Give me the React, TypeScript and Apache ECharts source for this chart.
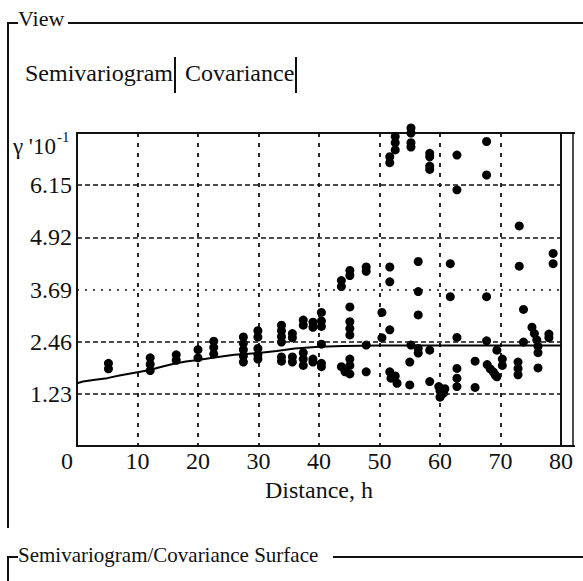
import React, { useEffect, useRef } from "react";
import * as echarts from "echarts";

const FONT = "Liberation Serif";

const xTicks = [0, 10, 20, 30, 40, 50, 60, 70, 80];
const yTicks = [0, 1.23, 2.46, 3.69, 4.92, 6.15, 7.38];

// empirical semivariogram points [distance, gamma*10]
const pointsNear = [
  [5.2, 1.95], [5.2, 1.82],
  [12.1, 2.08], [12.1, 1.93], [12.1, 1.78],
  [16.4, 2.15], [16.4, 2.02],
  [20.0, 2.27], [20.0, 2.08],
  [22.6, 2.47], [22.6, 2.32], [22.6, 2.17],
  [27.5, 2.57], [27.5, 2.42], [27.5, 2.27], [27.5, 2.12], [27.5, 1.98],
  [29.9, 2.72], [29.9, 2.57], [29.9, 2.3], [29.9, 2.15], [29.9, 2.05],
  [33.8, 2.85], [33.8, 2.72], [33.8, 2.58], [33.8, 2.45], [33.8, 2.1], [33.8, 2.0],
  [35.6, 2.65], [35.6, 2.55], [35.6, 2.1], [35.6, 1.98],
  [37.4, 2.97], [37.4, 2.85], [37.4, 2.2], [37.4, 2.05], [37.4, 1.9],
  [39.0, 2.92], [39.0, 2.8], [39.0, 2.05], [39.0, 1.98],
  [40.4, 3.15], [40.4, 2.95], [40.4, 2.82], [40.4, 2.4], [40.4, 1.95], [40.4, 1.87],
];
const pointsMid = [
  [43.7, 3.9], [43.7, 3.76], [43.7, 1.87], [44.3, 1.75],
  [45.1, 4.14], [45.1, 4.02], [45.1, 3.28], [45.1, 2.93], [45.1, 2.77], [45.1, 2.62],
  [45.1, 2.05], [45.1, 1.9], [45.1, 1.7],
  [47.8, 4.22], [47.8, 4.12], [47.8, 2.38], [47.8, 1.75],
  [50.4, 3.15], [50.4, 2.55],
  [51.7, 6.82], [51.7, 6.68], [51.7, 4.22], [51.7, 3.87], [51.7, 2.74], [51.7, 1.75], [51.9, 1.6],
  [52.6, 7.3], [52.6, 7.15], [52.6, 6.98], [52.6, 1.65], [52.9, 1.48],
  [55.2, 7.5], [55.2, 7.38], [55.2, 7.15], [55.2, 7.05], [55.2, 2.38], [55.0, 1.98], [55.0, 1.44],
  [56.4, 4.35], [56.4, 3.64], [56.4, 3.09], [56.4, 2.3], [56.4, 2.19],
  [58.3, 6.9], [58.3, 6.82], [58.3, 6.6], [58.3, 6.52], [58.3, 2.26], [58.3, 1.52],
];
const pointsFar = [
  [59.8, 1.4], [60.0, 1.3], [60.2, 1.2], [60.0, 1.15], [60.6, 1.25], [60.8, 1.35],
  [61.7, 4.3], [61.7, 3.52],
  [62.8, 6.86], [62.8, 6.04], [62.8, 2.56], [62.8, 1.83], [62.8, 1.6], [62.8, 1.4],
  [65.8, 2.0], [65.8, 1.38],
  [67.7, 7.18], [67.7, 6.39], [67.7, 3.52], [67.7, 2.48], [67.8, 1.92], [68.3, 1.82],
  [68.8, 1.75], [69.1, 1.68], [69.4, 1.63], [69.4, 2.26],
  [70.3, 2.05], [70.3, 1.9],
  [72.9, 1.98], [72.9, 1.83], [72.9, 1.68],
  [73.1, 5.19], [73.1, 4.24],
  [73.8, 3.22], [73.8, 2.45],
  [75.2, 2.8], [75.6, 2.65], [76.0, 2.5], [76.2, 2.35], [76.2, 2.2], [76.2, 1.84],
  [78.0, 2.64], [78.0, 2.55],
  [78.7, 4.54], [78.7, 4.3],
];

// fitted model curve
const modelCurve = [
  [0, 1.48], [1, 1.52], [3, 1.56], [5, 1.6], [7, 1.66], [10, 1.74], [12, 1.79],
  [14, 1.87], [16, 1.94], [18, 1.99], [20, 2.03], [23, 2.09], [26, 2.15], [30, 2.19],
  [33, 2.24], [36, 2.3], [40, 2.34], [44, 2.36], [50, 2.37], [80, 2.37],
];

export default function App() {
  const ref = useRef<HTMLDivElement>(null);
  useEffect(() => {
    document.body.style.margin = "0";
    const chart = echarts.init(ref.current!, null, { renderer: "svg" });
    const FS = 24;
    const txt = { fontFamily: FONT, fontSize: FS, color: "#111" };
    const gfont = (size: number) => ({ fontFamily: FONT, fontSize: size, fill: "#111" });
    const gridMarks = yTicks
      .filter((v) => v > 0 && v < 7.38)
      .map((v) => ({
        yAxis: v,
        lineStyle: {
          type: Math.abs(v - 3.69) < 0.01 ? [2, 6] : [5, 3],
          color: "#111",
          width: 1.6,
        },
      }));
    const lineStyleBlack = { stroke: "#111", lineWidth: 2 };
    chart.setOption({
      animation: false,
      textStyle: { fontFamily: FONT },
      grid: {
        left: 77,
        right: 22,
        top: 133,
        bottom: 135,
        show: true,
        borderColor: "#111",
        borderWidth: 2,
      },
      xAxis: {
        type: "value",
        min: xTicks[0],
        max: xTicks[xTicks.length - 1],
        interval: 10,
        axisLine: { show: false },
        axisTick: { show: false },
        axisLabel: {
          ...txt,
          margin: 3,
          formatter: (v: number) => (v === 0 ? "{z|0}" : String(v)),
          rich: { z: { ...txt, padding: [0, 20, 0, 0] } },
        },
        splitLine: {
          show: true,
          lineStyle: { color: "#111", type: [4, 6], width: 1.8 },
        },
        name: "Distance, h",
        nameLocation: "middle",
        nameGap: 29,
        nameTextStyle: txt,
      },
      yAxis: {
        type: "value",
        min: yTicks[0],
        max: yTicks[yTicks.length - 1],
        interval: 1.23,
        axisLine: { show: false },
        axisTick: { show: false },
        splitLine: { show: false },
        axisLabel: {
          ...txt,
          margin: 5,
          formatter: (v: number) =>
            v === 0 || v > 7.3 ? "" : v.toFixed(2),
        },
      },
      graphic: [
        // View frame
        { type: "polyline", shape: { points: [[18, 23], [8, 23], [8, 528]] }, style: { ...lineStyleBlack, fill: null } },
        { type: "line", shape: { x1: 68, y1: 23, x2: 583, y2: 23 }, style: lineStyleBlack },
        { type: "text", x: 18, y: 18, style: { text: "View", ...gfont(22), verticalAlign: "middle" } },
        // tabs
        { type: "text", x: 25, y: 73, style: { text: "Semivariogram", ...gfont(24), verticalAlign: "middle" } },
        { type: "line", shape: { x1: 175, y1: 57, x2: 175, y2: 93 }, style: lineStyleBlack },
        { type: "text", x: 185, y: 73, style: { text: "Covariance", ...gfont(24), verticalAlign: "middle" } },
        { type: "line", shape: { x1: 296, y1: 57, x2: 296, y2: 93 }, style: lineStyleBlack },
        // y axis title
        { type: "text", x: 56, y: 146, style: { text: "γ '10", ...gfont(23), align: "right", verticalAlign: "middle" } },
        { type: "text", x: 57, y: 137, style: { text: "-1", ...gfont(15), align: "left", verticalAlign: "middle" } },
        // plot extension on right
        { type: "line", shape: { x1: 561, y1: 133, x2: 575, y2: 133 }, style: lineStyleBlack },
        { type: "line", shape: { x1: 561, y1: 446, x2: 575, y2: 446 }, style: lineStyleBlack },
        { type: "line", shape: { x1: 573, y1: 133, x2: 573, y2: 446 }, style: { stroke: "#111", lineWidth: 1.5 } },
        // bottom section
        { type: "polyline", shape: { points: [[18, 557], [8, 557], [8, 581]] }, style: { ...lineStyleBlack, fill: null } },
        { type: "text", x: 18, y: 555, style: { text: "Semivariogram/Covariance Surface", ...gfont(21), verticalAlign: "middle" } },
        { type: "line", shape: { x1: 333, y1: 557, x2: 583, y2: 557 }, style: lineStyleBlack },
      ],
      series: [
        {
          type: "scatter",
          data: [...pointsNear, ...pointsMid, ...pointsFar],
          symbol: "circle",
          symbolSize: 9,
          itemStyle: { color: "#000", opacity: 1 },
          clip: false,
          silent: true,
          z: 3,
        },
        {
          type: "line",
          data: modelCurve,
          showSymbol: false,
          lineStyle: { color: "#000", width: 2 },
          silent: true,
          z: 4,
          markLine: {
            silent: true,
            symbol: "none",
            label: { show: false },
            data: gridMarks,
          },
        },
      ],
    });
    return () => chart.dispose();
  }, []);
  return <div ref={ref} style={{ width: 583, height: 581 }} />;
}
